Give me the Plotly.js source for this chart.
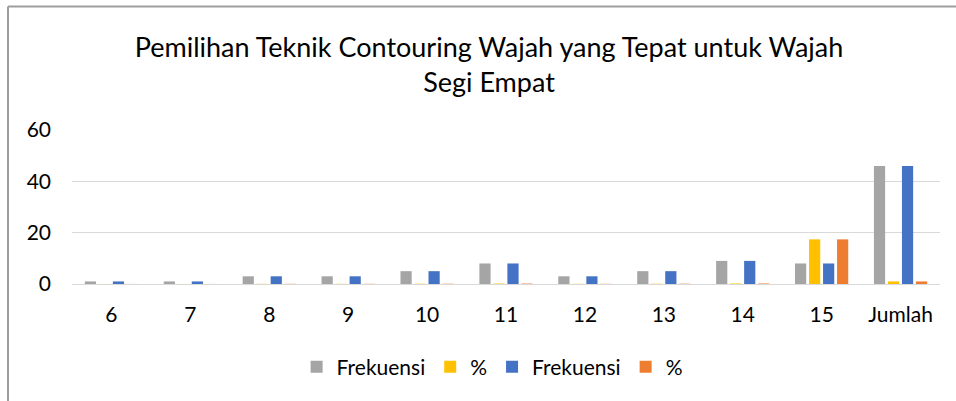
<!DOCTYPE html>
<html>
<head>
<meta charset="utf-8">
<script src="https://cdn.plot.ly/plotly-3.0.1.min.js"></script>
<style>
html,body{margin:0;padding:0;background:#fff;}
#chart{width:956px;height:401px;}
</style>
</head>
<body>
<div id="chart"></div>
<script>
const categories = ['6','7','8','9','10','11','12','13','14','15','Jumlah'];
const frekuensiA = [1,1,3,3,5,8,3,5,9,8,46];
const persenA = [0.0217,0.0217,0.0652,0.0652,0.1087,0.1739,0.0652,0.1087,0.1957,17.39,1];
const frekuensiB = [1,1,3,3,5,8,3,5,9,8,46];
const persenB = [0.0217,0.0217,0.0652,0.0652,0.1087,0.1739,0.0652,0.1087,0.1957,17.39,1];
const seriesNames = ['Frekuensi','%','Frekuensi','%'];
const colors = ['#A5A5A5','#FFC000','#4472C4','#ED7D31'];
const seriesData = [frekuensiA, persenA, frekuensiB, persenB];

const font = 'Lato, "Open Sans", sans-serif';
const traces = seriesData.map((d,i)=>({
  type:'bar', x:categories, y:d, name:seriesNames[i],
  marker:{color:colors[i]}
}));

const layout = {
  width:956, height:401,
  margin:{l:72,r:16,t:130,b:117},
  paper_bgcolor:'#fff', plot_bgcolor:'#fff',
  font:{family:font, color:'#000'},
  title:{text:'Pemilihan Teknik Contouring Wajah yang Tepat untuk Wajah<br>Segi Empat',
    font:{size:27,family:font,color:'#000'}, x:0.5115, xref:'container', xanchor:'center',
    y:0.857, yref:'container', yanchor:'middle'},
  barmode:'group', bargap:0.29, bargroupgap:0.2,
  xaxis:{type:'category', showgrid:false, showline:true, linecolor:'#d9d9d9', linewidth:1,
    ticks:'', ticklabelstandoff:12, tickfont:{size:21,family:font,color:'#000'}, fixedrange:true},
  yaxis:{range:[0,60], dtick:20, showgrid:true, gridcolor:'#d9d9d9', gridwidth:1,
    zeroline:false, showline:false, ticks:'', ticklabelstandoff:20,
    tickfont:{size:21,family:font,color:'#000'}, fixedrange:true},
  showlegend:true,
  legend:{orientation:'h', x:0.484, xanchor:'center', y:-0.54, yanchor:'middle',
    font:{size:21,family:font,color:'#000'}, itemwidth:30, traceorder:'normal'},
  shapes:[
    {type:'line', xref:'paper', yref:'paper', x0:(8-72)/868, x1:(8-72)/868, y0:(284-401)/154, y1:(284-6.5)/154,
      line:{color:'#9e9e9e', width:2}},
    {type:'line', xref:'paper', yref:'paper', x0:(8-72)/868, x1:(956-72)/868, y0:(284-6.5)/154, y1:(284-6.5)/154,
      line:{color:'#9e9e9e', width:2}}
  ]
};
Plotly.newPlot('chart', traces, layout, {displayModeBar:false, staticPlot:true});
</script>
</body>
</html>
